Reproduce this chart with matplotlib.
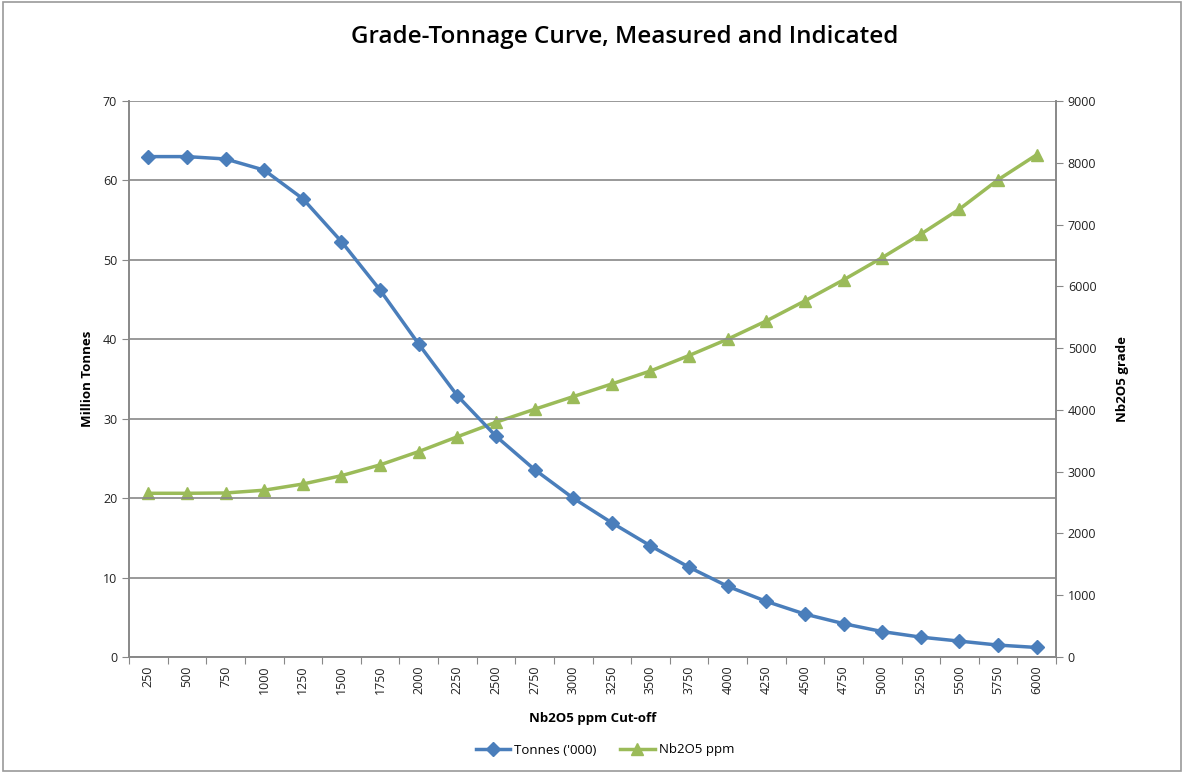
import matplotlib
matplotlib.use("Agg")
import matplotlib.pyplot as plt
from matplotlib.patches import Rectangle
import numpy as np

cutoffs = [250, 500, 750, 1000, 1250, 1500, 1750, 2000, 2250, 2500, 2750, 3000,
           3250, 3500, 3750, 4000, 4250, 4500, 4750, 5000, 5250, 5500, 5750, 6000]
tonnes = [63.0, 63.0, 62.7, 61.3, 57.7, 52.3, 46.2, 39.4, 32.9, 27.8, 23.6, 20.0,
          16.9, 14.0, 11.3, 8.9, 7.0, 5.4, 4.2, 3.2, 2.5, 2.0, 1.5, 1.2]
grade = [2650, 2650, 2655, 2700, 2800, 2935, 3110, 3325, 3565, 3800, 4010, 4215,
         4420, 4630, 4880, 5145, 5440, 5765, 6105, 6465, 6845, 7250, 7725, 8130]
xlabels = [str(c) for c in cutoffs]

BLUE = "#4A7EBB"
GREEN = "#9BBB59"
GRID = "#888888"
FONT = ["Open Sans", "DejaVu Sans"]
plt.rcParams['font.family'] = FONT

fig = plt.figure(figsize=(11.84, 7.73), dpi=100)
ax = fig.add_axes([129/1184, 1-657/773, (1056-129)/1184, (657-101)/773])
ax2 = ax.twinx()

x = np.arange(len(cutoffs))
l1, = ax.plot(x, tonnes, color=BLUE, lw=2.5, marker='D', ms=7, label="Tonnes ('000)")
l2, = ax2.plot(x, grade, color=GREEN, lw=2.5, marker='^', ms=8.5, label="Nb2O5 ppm")
ax.set_zorder(ax2.get_zorder() + 1)
ax.patch.set_visible(False)

ax.set_xlim(-0.5, len(cutoffs) - 0.5)
ax.set_ylim(0, 70)
ax2.set_ylim(0, 9000)
ax.set_yticks(np.arange(0, 71, 10))
ax2.set_yticks(np.arange(0, 9001, 1000))
ax.yaxis.grid(True, color=GRID, lw=1.2)
ax.set_axisbelow(True)

ax.set_xticks(np.arange(-0.5, len(cutoffs)), minor=False)
ax.set_xticklabels([])
ax.set_xticks(x, minor=True)
ax.set_xticklabels(xlabels, minor=True, rotation=90, fontsize=9, color="#222222")
ax.tick_params(axis='x', which='major', length=5, color=GRID, direction='out')
ax.tick_params(axis='x', which='minor', length=0, pad=6)
ax.tick_params(axis='y', length=5, color=GRID, labelsize=9, labelcolor="#222222")
ax2.tick_params(axis='y', length=5, color=GRID, labelsize=9, labelcolor="#222222")

for a in (ax, ax2):
    a.spines['top'].set_visible(False)
    for s in ('left', 'right', 'bottom'):
        a.spines[s].set_color(GRID)
        a.spines[s].set_linewidth(1.2)

ax.set_ylabel("Million Tonnes", fontsize=9.5, fontweight='bold', labelpad=6)
ax2.set_ylabel("Nb2O5 grade", fontsize=9.5, fontweight='bold', rotation=90, labelpad=14)
ax.set_xlabel("Nb2O5 ppm Cut-off", fontsize=9.5, fontweight='bold', labelpad=13)

fig.text(625/1184, 1-37/773, "Grade-Tonnage Curve, Measured and Indicated",
         ha='center', va='center', fontsize=17.5, fontweight='semibold')

fig.legend([l1, l2], [l1.get_label(), l2.get_label()], loc='center',
           bbox_to_anchor=(605/1184, 1-750/773), ncol=2, frameon=False,
           fontsize=9.5, handlelength=2.6, columnspacing=1.8, handletextpad=0.3)

fig.add_artist(Rectangle((3/1184, 2/773), 1-6/1184, 1-4/773, transform=fig.transFigure,
                         fill=False, edgecolor="#9a9a9a", lw=1.2))

fig.savefig("out.png", dpi=100)
